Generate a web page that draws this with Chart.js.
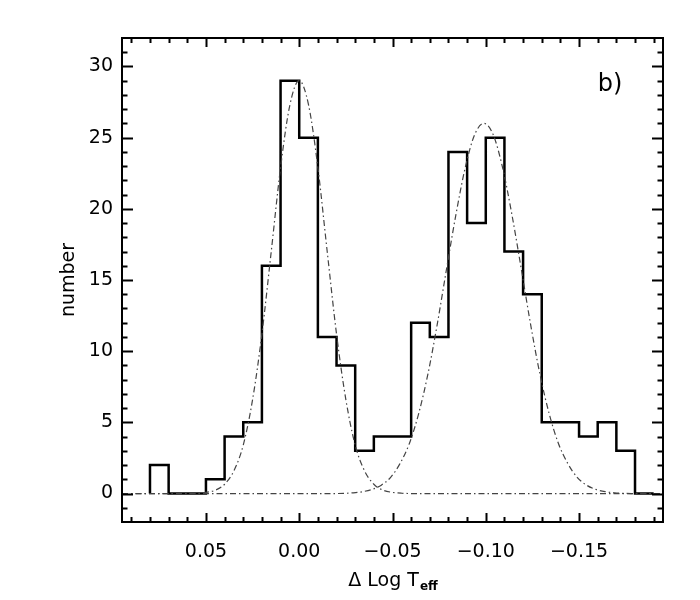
<!DOCTYPE html>
<html>
<head>
<meta charset="utf-8">
<script src="https://cdn.jsdelivr.net/npm/chart.js@4.4.0/dist/chart.umd.min.js"></script>
<style>
  body { margin: 0; background: #fff; }
</style>
</head>
<body>
<canvas id="histChart" width="700" height="600"></canvas>
<script>
// histogram: left edge of each bin (width 0.01) and its count
var binStarts = [0.08, 0.07, 0.06, 0.05, 0.04, 0.03, 0.02, 0.01, 0.00, -0.01, -0.02, -0.03, -0.04,
                 -0.05, -0.06, -0.07, -0.08, -0.09, -0.10, -0.11, -0.12, -0.13, -0.14, -0.15, -0.16, -0.17];
var counts = [2, 0, 0, 1, 4, 5, 16, 29, 25, 11, 9, 3, 4,
              4, 12, 11, 24, 19, 25, 17, 14, 5, 5, 4, 5, 3];
var histEnd = [-0.18, -0.19];

// dash-dot fit curves
var fit1X = [0.095, 0.06, 0.055, 0.05, 0.045, 0.04, 0.035, 0.03, 0.025, 0.02, 0.015, 0.01, 0.005, 0.0,
             -0.005, -0.01, -0.015, -0.02, -0.025, -0.03, -0.035, -0.04, -0.045, -0.05, -0.055, -0.06, -0.195];
var fit1Y = [0, 0, 0.02, 0.08, 0.23, 0.65, 1.6, 3.4, 6.6, 11.2, 17.0, 22.9, 27.3, 29,
             27.3, 22.9, 17.0, 11.2, 6.6, 3.4, 1.6, 0.65, 0.23, 0.08, 0.02, 0, 0];
var fit2X = [0.095, -0.02, -0.029, -0.034, -0.039, -0.044, -0.049, -0.054, -0.059, -0.064, -0.069, -0.074,
             -0.079, -0.084, -0.089, -0.094, -0.099, -0.104, -0.109, -0.114, -0.119, -0.124, -0.129,
             -0.134, -0.139, -0.144, -0.149, -0.154, -0.159, -0.164, -0.169, -0.178, -0.195];
var fit2Y = [0, 0, 0.05, 0.13, 0.29, 0.59, 1.14, 2.1, 3.5, 5.6, 8.4, 11.9,
             15.8, 19.6, 22.9, 25.2, 26, 25.2, 22.9, 19.6, 15.8, 11.9, 8.4,
             5.6, 3.5, 2.1, 1.14, 0.59, 0.29, 0.13, 0.05, 0, 0];

var xTicks = [0.05, 0.00, -0.05, -0.10, -0.15];
var yTicks = [0, 5, 10, 15, 20, 25, 30];

var histPoints = [{ x: binStarts[0], y: 0 }];
binStarts.forEach(function (b, i) { histPoints.push({ x: b, y: counts[i] }); });
histEnd.forEach(function (e) { histPoints.push({ x: e, y: 0 }); });

function toPoints(xs, ys) {
  return xs.map(function (x, i) { return { x: x, y: ys[i] }; });
}

var fitStyle = {
  borderColor: "#444",
  borderWidth: 1.2,
  borderDash: [6, 3, 1.5, 3],
  pointRadius: 0,
  cubicInterpolationMode: "monotone",
  fill: false,
};

var FONT = "'DejaVu Sans'";

// IDL style frame: box with inward ticks, titles, panel label
var idlFrame = {
  id: "idlFrame",
  beforeDraw: function (chart) {
    var ctx = chart.ctx;
    ctx.save();
    ctx.fillStyle = "#fff";
    ctx.fillRect(0, 0, chart.width, chart.height);
    ctx.restore();
  },
  afterDraw: function (chart) {
    var ctx = chart.ctx, a = chart.chartArea;
    var xs = chart.scales.x, ys = chart.scales.y;
    ctx.save();
    ctx.strokeStyle = "#000";
    ctx.lineWidth = 2;
    ctx.strokeRect(a.left, a.top, a.right - a.left, a.bottom - a.top);
    ctx.beginPath();
    for (var k = -19; k <= 9; k++) {
      var px = Math.round(xs.getPixelForValue(k / 100)) + 0.5;
      var len = (k % 5 === 0) ? 9 : 5;
      ctx.moveTo(px, a.bottom); ctx.lineTo(px, a.bottom - len);
      ctx.moveTo(px, a.top); ctx.lineTo(px, a.top + len);
    }
    for (var j = -1; j <= 31; j++) {
      var py = Math.round(ys.getPixelForValue(j)) + 0.5;
      var ylen = (j % 5 === 0) ? 11 : 5.5;
      ctx.moveTo(a.left, py); ctx.lineTo(a.left + ylen, py);
      ctx.moveTo(a.right, py); ctx.lineTo(a.right - ylen, py);
    }
    ctx.stroke();

    ctx.fillStyle = "#000";
    ctx.textBaseline = "alphabetic";
    // x title with subscript
    var main = "\u0394 Log T", sub = "eff";
    ctx.font = "19px " + FONT;
    var w1 = ctx.measureText(main).width;
    ctx.font = "bold 12px " + FONT;
    var w2 = ctx.measureText(sub).width;
    var cx = (a.left + a.right) / 2, x0 = cx - (w1 + w2) / 2;
    ctx.font = "19px " + FONT;
    ctx.textAlign = "left";
    ctx.fillText(main, x0, 586);
    ctx.font = "bold 12px " + FONT;
    ctx.fillText(sub, x0 + w1 + 1, 590);

    // y title
    ctx.save();
    ctx.translate(74, (a.top + a.bottom) / 2);
    ctx.rotate(-Math.PI / 2);
    ctx.font = "19px " + FONT;
    ctx.textAlign = "center";
    ctx.fillText("number", 0, 0);
    ctx.restore();

    // panel label
    ctx.font = "24px " + FONT;
    ctx.textAlign = "center";
    ctx.fillText("b)", 610, 91);
    ctx.restore();
  },
};

var ctx = document.getElementById("histChart").getContext("2d");
var chart = new Chart(ctx, {
  type: "line",
  data: {
    datasets: [
      Object.assign({ label: "fit 1", data: toPoints(fit1X, fit1Y) }, fitStyle),
      Object.assign({ label: "fit 2", data: toPoints(fit2X, fit2Y) }, fitStyle),
      {
        label: "number",
        data: histPoints,
        borderColor: "#000",
        borderWidth: 2.5,
        stepped: "before",
        pointRadius: 0,
        fill: false,
      },
    ],
  },
  options: {
    responsive: false,
    animation: false,
    layout: { padding: { top: 38, right: 37, left: 0, bottom: 0 } },
    plugins: { legend: { display: false }, tooltip: { enabled: false } },
    scales: {
      x: {
        type: "linear",
        reverse: true,
        min: -0.195,
        max: 0.095,
        grid: { display: false, drawTicks: false },
        border: { display: false },
        afterBuildTicks: function (scale) {
          scale.ticks = xTicks.map(function (v) { return { value: v }; });
        },
        afterFit: function (scale) { scale.height = 78; },
        ticks: {
          padding: 19,
          maxRotation: 0,
          color: "#000",
          font: { family: "DejaVu Sans", size: 19 },
          callback: function (v) { return v.toFixed(2).replace("-", "\u2212"); },
        },
      },
      y: {
        type: "linear",
        min: -2,
        max: 32,
        grid: { display: false, drawTicks: false },
        border: { display: false },
        afterBuildTicks: function (scale) {
          scale.ticks = yTicks.map(function (v) { return { value: v }; });
        },
        afterFit: function (scale) { scale.width = 122; },
        ticks: {
          padding: 9,
          color: "#000",
          font: { family: "DejaVu Sans", size: 19 },
        },
      },
    },
  },
  plugins: [idlFrame],
});
</script>
</body>
</html>
